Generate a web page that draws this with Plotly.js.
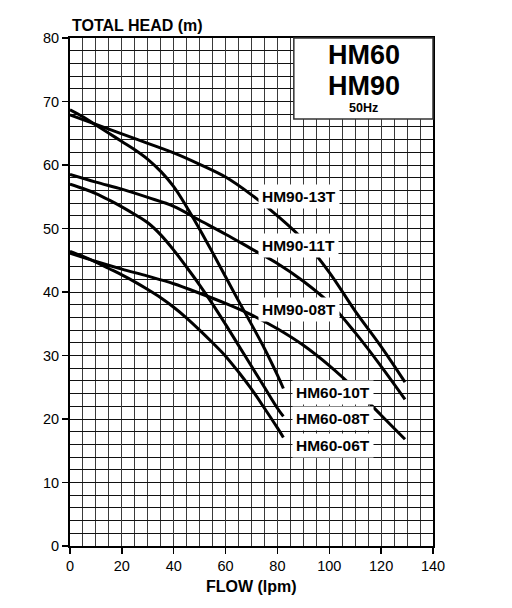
<!DOCTYPE html>
<html>
<head>
<meta charset="utf-8">
<script src="https://cdn.plot.ly/plotly-3.0.1.min.js"></script>
<style>html,body{margin:0;padding:0;background:#fff;}#chart{width:512px;height:608px;}</style>
</head>
<body>
<div id="chart"></div>
<script>
// Flow (lpm) and total head (m)
const flowHM90 = [0,10,20,30,40,50,60,70,80,90,100,110,120,129.2];
const head90_13T = [67.9,66.4,64.9,63.4,61.9,60.1,58.1,55.3,52.0,48.2,43.1,37.0,31.4,25.8];
const head90_11T = [58.5,57.3,56.2,54.9,53.5,51.3,49.1,46.8,44.5,41.7,38.3,33.6,28.3,23.1];
const head90_08T = [46.1,44.8,43.6,42.5,41.3,39.8,38.2,36.4,34.2,31.6,28.4,24.7,20.6,16.8];

const flowHM60 = [0,5,10,15,20,25,30,35,40,45,50,55,60,65,70,75,80,82.3];
const head60_10T = [68.7,67.6,66.3,65.0,63.7,62.4,60.9,59.0,56.6,53.4,49.9,46.2,42.4,38.6,34.9,31.1,26.9,24.8];
const head60_08T = [57.0,56.3,55.5,54.5,53.4,52.2,50.9,49.0,46.6,43.9,41.1,38.1,34.9,31.6,28.3,25.0,21.7,20.4];
const head60_06T = [46.4,45.6,44.7,43.7,42.7,41.6,40.4,39.1,37.6,35.9,34.0,32.0,29.9,27.4,24.7,21.7,18.6,17.1];

const curveNames = ["HM90-13T","HM90-11T","HM90-08T","HM60-10T","HM60-08T","HM60-06T"];
const labelX = [88.3, 88.3, 88.3, 101.4, 101.4, 101.4];
const labelY = [55.0, 47.3, 37.2, 24.2, 20.1, 15.9];

const FONT = "'Liberation Sans', Arial, Helvetica, sans-serif";

const series = [
  [flowHM90, head90_13T],
  [flowHM90, head90_11T],
  [flowHM90, head90_08T],
  [flowHM60, head60_10T],
  [flowHM60, head60_08T],
  [flowHM60, head60_06T]
];

const traces = series.map((s, i) => ({
  x: s[0], y: s[1], name: curveNames[i],
  type: 'scatter', mode: 'lines',
  line: {color: '#000', width: 3, shape: 'spline', smoothing: 1},
  hoverinfo: 'skip'
}));

const annotations = curveNames.map((n, i) => ({
  x: labelX[i], y: labelY[i], xref: 'x', yref: 'y',
  text: n, showarrow: false, xanchor: 'center', yanchor: 'middle',
  bgcolor: '#fff', borderpad: 3,
  font: {family: FONT, size: 15.5, color: '#000', weight: 'bold'}
}));

annotations.push(
  {xref:'paper', yref:'paper', x:0, y:1, xanchor:'left', yanchor:'middle', yshift:12.5,
   text:'TOTAL HEAD (m)', showarrow:false, font:{family:FONT, size:16, color:'#000', weight:'bold'}},
  {xref:'paper', yref:'paper', x:0.5, y:0, xanchor:'center', yanchor:'middle', yshift:-40,
   text:'FLOW (lpm)', showarrow:false, font:{family:FONT, size:16, color:'#000', weight:'bold'}},
  {xref:'paper', yref:'paper', x:0.809, y:0.9661, xanchor:'center', yanchor:'middle',
   text:'HM60', showarrow:false, font:{family:FONT, size:27, color:'#000', weight:'bold'}},
  {xref:'paper', yref:'paper', x:0.809, y:0.9064, xanchor:'center', yanchor:'middle',
   text:'HM90', showarrow:false, font:{family:FONT, size:27, color:'#000', weight:'bold'}},
  {xref:'paper', yref:'paper', x:0.809, y:0.8627, xanchor:'center', yanchor:'middle',
   text:'50Hz', showarrow:false, font:{family:FONT, size:12.5, color:'#000', weight:'bold'}}
);

const axisCommon = {
  ticks: 'outside', ticklen: 6, tickwidth: 1.5, tickcolor: '#000',
  showline: true, linewidth: 2, linecolor: '#000', mirror: true,
  showgrid: true, gridwidth: 1,
  zeroline: false, fixedrange: true,
  tickfont: {family: FONT, size: 14.5, color: '#000'}
};

const layout = {
  width: 512, height: 608,
  margin: {l: 70, r: 78.7, t: 38.3, b: 62},
  paper_bgcolor: '#fff', plot_bgcolor: '#fff',
  showlegend: false,
  xaxis: Object.assign({}, axisCommon, {
    range: [0, 140], tick0: 0, dtick: 20, gridcolor: '#3a3a3a',
    minor: {dtick: 5, showgrid: true, gridcolor: '#3a3a3a', gridwidth: 1, ticks: ''}
  }),
  yaxis: Object.assign({}, axisCommon, {
    range: [0, 80], tick0: 0, dtick: 10, gridcolor: '#111',
    minor: {dtick: 2, showgrid: true, gridcolor: '#111', gridwidth: 1, ticks: ''}
  }),
  shapes: [
    {type: 'rect', xref: 'paper', yref: 'paper', x0: 0.6166, x1: 1, y0: 0.8405, y1: 1,
     fillcolor: '#fff', line: {color: '#333', width: 1.5}, layer: 'above'}
  ],
  annotations: annotations
};

Plotly.newPlot('chart', traces, layout, {displayModeBar: false, staticPlot: true});
</script>
</body>
</html>
